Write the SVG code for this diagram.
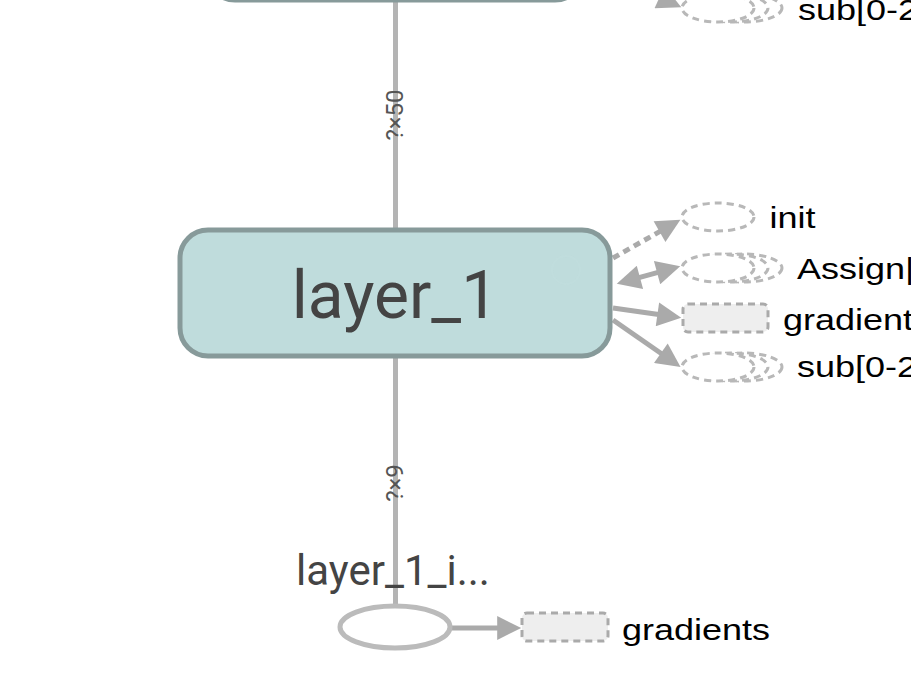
<svg xmlns="http://www.w3.org/2000/svg" xmlns:xlink="http://www.w3.org/1999/xlink" width="911" height="678" viewBox="0 0 911 678">
<style>
.meta{fill:#bfdcdc;stroke:#879a9a;stroke-width:5}
.edge{fill:none;stroke:#b4b4b4;stroke-width:5}
.ctl{fill:none;stroke:#aaa;stroke-width:5}
.dotted{stroke-dasharray:7,5}
.aux{fill:#fff;stroke:#b8b8b8;stroke-width:3;stroke-dasharray:7,5}
.auxrect{fill:#eee;stroke:#aaa;stroke-width:3;stroke-dasharray:7,5}
.op{fill:#fff;stroke:#bbb;stroke-width:5}
.ann{font-family:"Liberation Sans",Arial,sans-serif;font-size:30px;fill:#000}
.nlbl{font-family:Roboto,"Liberation Sans",sans-serif;fill:#444;text-anchor:middle}
.elbl{font-family:Roboto,"Liberation Sans",sans-serif;font-size:24px;fill:#555;text-anchor:middle}
</style>
<defs>
<marker id="arr" viewBox="0 0 10 10" refX="2" refY="5" markerUnits="userSpaceOnUse" markerWidth="26" markerHeight="24" orient="auto-start-reverse">
<path d="M0,0 L10,5 L0,10 z" fill="#aaa"/>
</marker>
<g id="series">
<ellipse cx="26" cy="0" rx="38" ry="14" class="aux"/>
<ellipse cx="13" cy="0" rx="37" ry="14" class="aux"/>
<ellipse cx="0" cy="0" rx="36" ry="14" class="aux"/>
</g>
</defs>
<rect width="911" height="678" fill="#fff"/>

<g id="connectors">
<line x1="395.5" y1="0" x2="395.5" y2="229" class="edge"/>
<line x1="395.5" y1="357" x2="395.5" y2="604" class="edge"/>
<text class="elbl" transform="translate(403,115) rotate(-90)">?×50</text>
<text class="elbl" transform="translate(403,483) rotate(-90)">?×9</text>
<line x1="600" y1="-30" x2="663.9" y2="-0.7" class="ctl" marker-end="url(#arr)"/>
<line x1="613" y1="258" x2="663.7" y2="229.3" class="ctl dotted" marker-end="url(#arr)"/>
<line x1="635.3" y1="278.6" x2="661.7" y2="271.4" class="ctl" marker-start="url(#arr)" marker-end="url(#arr)"/>
<line x1="613" y1="308" x2="662.2" y2="315" class="ctl" marker-end="url(#arr)"/>
<line x1="613" y1="320" x2="664.8" y2="356" class="ctl" marker-end="url(#arr)"/>
<line x1="452" y1="628" x2="502" y2="628" class="ctl" marker-end="url(#arr)"/>
</g>

<g id="node-top">
<rect x="207" y="-100" width="376" height="100" rx="28" class="meta"/>
</g>

<g id="node-layer_1">
<rect x="180" y="230" width="430" height="126" rx="28" class="meta"/>
<circle cx="566" cy="270" r="14" fill="none" stroke="#c2dede" stroke-width="2" opacity="0.6"/>
<text class="nlbl" x="395" y="318" font-size="66">layer_1</text>
</g>

<g id="ann-sub-top">
<use xlink:href="#series" href="#series" transform="translate(718,8)"/>
<text class="ann" transform="translate(798,20) scale(1.2,1)">sub[0-2</text>
</g>

<g id="ann-init">
<ellipse cx="718" cy="217" rx="36" ry="14" class="aux"/>
<text class="ann" transform="translate(769.6,228) scale(1.2,1)">init</text>
</g>

<g id="ann-assign">
<use xlink:href="#series" href="#series" transform="translate(718,268)"/>
<text class="ann" transform="translate(797,279) scale(1.2,1)">Assign|</text>
</g>

<g id="ann-gradient">
<rect x="683" y="304" width="85" height="28" rx="5" class="auxrect"/>
<text class="ann" transform="translate(783,330) scale(1.2,1)">gradient</text>
</g>

<g id="ann-sub">
<use xlink:href="#series" href="#series" transform="translate(718,367)"/>
<text class="ann" transform="translate(797,377) scale(1.2,1)">sub[0-2</text>
</g>

<g id="node-layer_1_input">
<text class="nlbl" x="393" y="585" font-size="42">layer_1_i...</text>
<ellipse cx="395" cy="627" rx="55" ry="21" class="op"/>
</g>

<g id="ann-gradients-bottom">
<rect x="522" y="613" width="86" height="28" rx="5" class="auxrect"/>
<text class="ann" transform="translate(622,640) scale(1.2,1)">gradients</text>
</g>
</svg>
